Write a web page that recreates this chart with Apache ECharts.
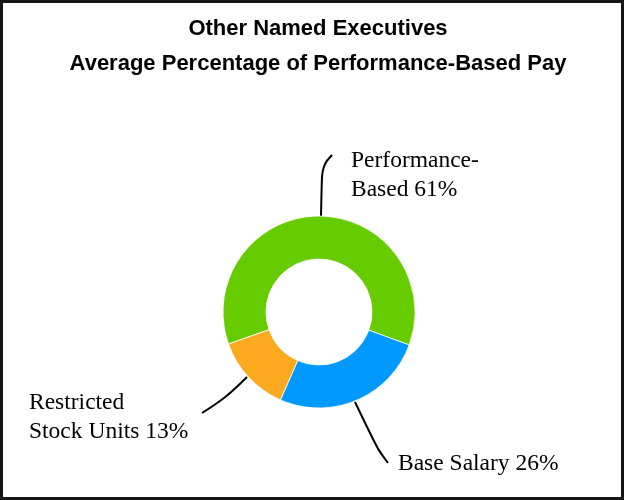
<!DOCTYPE html>
<html>
<head>
<meta charset="utf-8">
<script src="https://cdn.jsdelivr.net/npm/echarts@6/dist/echarts.min.js"></script>
<style>
html,body{margin:0;padding:0;background:#fff;}
#chart{width:624px;height:500px;}
</style>
</head>
<body>
<div id="chart"></div>
<script>
var titleLines = ['Other Named Executives', 'Average Percentage of Performance-Based Pay'];
var categories = ['Performance-\nBased', 'Base Salary', 'Restricted\nStock Units'];
var values = [61, 26, 13];
var colors = ['#66CC00', '#0099FF', '#FBA91E'];

// label placement (layout only)
var labelPos = [
  {x: 351, y: 147, line: [[321, 217], [322, 166], [332, 155]]},
  {x: 398, y: 450, line: [[355, 402], [378, 450], [388, 463]]},
  {x: 29, y: 389, line: [[247, 377], [226, 398], [202, 413]]}
];

var chart = echarts.init(document.getElementById('chart'), null, {renderer: 'canvas'});
chart.setOption({
  backgroundColor: '#fff',
  animation: false,
  title: {
    text: titleLines.join('\n'),
    left: 318,
    top: 11,
    padding: 0,
    textAlign: 'center',
    textStyle: {
      fontFamily: 'Liberation Sans, Arial, sans-serif',
      fontWeight: 'bold',
      fontSize: 22,
      lineHeight: 35,
      color: '#000'
    }
  },
  graphic: [{
    type: 'rect',
    shape: {x: 1.5, y: 1.5, width: 621, height: 497},
    style: {fill: 'none', stroke: '#161616', lineWidth: 3},
    silent: true
  }],
  series: [{
    type: 'pie',
    center: [319, 312],
    radius: [53, 96],
    startAngle: 199.5,
    clockwise: true,
    avoidLabelOverlap: false,
    itemStyle: {borderColor: '#fff', borderWidth: 0.8},
    label: {
      show: true,
      position: 'outside',
      formatter: '{b} {c}%',
      fontFamily: 'Liberation Serif, Times New Roman, serif',
      fontSize: 23.5,
      lineHeight: 28.5,
      color: '#000'
    },
    labelLine: {
      show: true,
      smooth: 0.4,
      lineStyle: {color: '#000', width: 2}
    },
    labelLayout: function (p) {
      var lp = labelPos[p.dataIndex];
      return {
        x: lp.x,
        y: lp.y,
        align: 'left',
        verticalAlign: 'top',
        labelLinePoints: lp.line
      };
    },
    emphasis: {disabled: true},
    data: categories.map(function (c, i) {
      return {name: c, value: values[i], itemStyle: {color: colors[i]}};
    })
  }]
});
</script>
</body>
</html>
